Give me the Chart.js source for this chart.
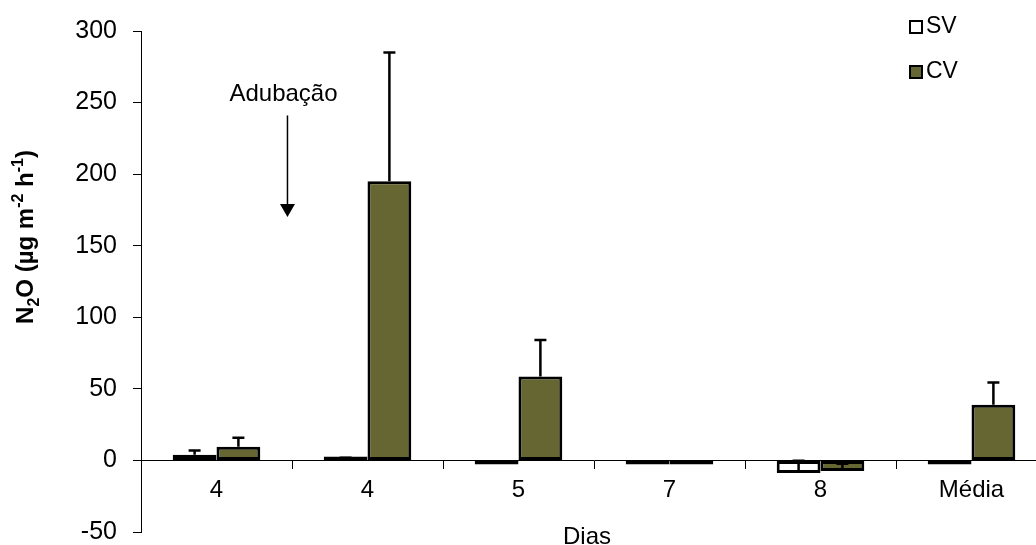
<!DOCTYPE html>
<html>
<head>
<meta charset="utf-8">
<script src="https://cdn.jsdelivr.net/npm/chart.js@4/dist/chart.umd.min.js"></script>
<style>
  html, body { margin: 0; padding: 0; background: #fff; overflow: hidden; }
  #wrap { width: 1036px; height: 545px; overflow: hidden; position: relative; }
  canvas { display: block; }
</style>
</head>
<body>
<div id="wrap"><canvas id="c" width="1050" height="563"></canvas></div>
<script>
// Sampling days and overall mean
const categories = ['4', '4', '5', '7', '8', 'Média'];
// N2O flux (µg m-2 h-1), without (SV) and with (CV) fertiliser
const seriesSV = [3.9, 0.6, -2.3, -1.5, -8.8, -2.4];
const seriesCV = [9.6, 195, 58.6, -1.2, -7.4, 38.9];
// Upper error bars
const errorSV = [3.1, 1.3, 0, 0, 8.5, 0];
const errorCV = [6.2, 90, 25.6, 0, 5.1, 15.5];
// Y axis ticks
const yTicks = [-50, 0, 50, 100, 150, 200, 250, 300];
const seriesLabels = ['SV', 'CV'];

const FONT = '"Liberation Sans", Arial, sans-serif';
const OLIVE = '#666633';

// Upper error bars drawn over each bar
const errorBars = {
  id: 'errorBars',
  afterDatasetsDraw(chart) {
    const ctx = chart.ctx;
    const y = chart.scales.y;
    const errs = [errorSV, errorCV];
    ctx.save();
    ctx.strokeStyle = '#000';
    ctx.lineWidth = 2.5;
    chart.data.datasets.forEach((ds, i) => {
      const meta = chart.getDatasetMeta(i);
      meta.data.forEach((bar, j) => {
        const e = errs[i][j];
        if (!e) return;
        const v = ds.data[j];
        const y0 = y.getPixelForValue(v);
        const y1 = y.getPixelForValue(v + e);
        ctx.beginPath();
        ctx.moveTo(bar.x, y0);
        ctx.lineTo(bar.x, y1);
        ctx.moveTo(bar.x - 6, y1);
        ctx.lineTo(bar.x + 6, y1);
        ctx.stroke();
      });
    });
    ctx.restore();
  }
};

// Axis titles, legend and fertilisation marker
const decorations = {
  id: 'decorations',
  afterDraw(chart) {
    const ctx = chart.ctx;
    const xs = chart.scales.x, ys = chart.scales.y;
    ctx.save();
    ctx.fillStyle = '#000';
    ctx.strokeStyle = '#000';

    // Y title with sub/superscripts
    const parts = [
      ['N', 24, 0], ['2', 16, 6], ['O (µg m', 24, 0], ['-2', 16, -10],
      [' h', 24, 0], ['-1', 16, -10], [')', 24, 0]
    ];
    let total = 0;
    parts.forEach(p => { ctx.font = 'bold ' + p[1] + 'px ' + FONT; total += ctx.measureText(p[0]).width; });
    ctx.translate(33, 237);
    ctx.rotate(-Math.PI / 2);
    ctx.textBaseline = 'alphabetic';
    ctx.textAlign = 'left';
    let px = -total / 2;
    parts.forEach(p => {
      ctx.font = 'bold ' + p[1] + 'px ' + FONT;
      ctx.fillText(p[0], px, p[2]);
      px += ctx.measureText(p[0]).width;
    });
    ctx.setTransform(1, 0, 0, 1, 0, 0);

    // X title
    ctx.font = '24px ' + FONT;
    ctx.textAlign = 'center';
    ctx.textBaseline = 'alphabetic';
    ctx.fillText('Dias', 587, 544);

    // Legend
    const lg = [[seriesLabels[0], '#fff', 27], [seriesLabels[1], OLIVE, 72]];
    ctx.font = '23px ' + FONT;
    ctx.textAlign = 'left';
    ctx.textBaseline = 'middle';
    ctx.lineWidth = 2;
    lg.forEach(([t, col, cy]) => {
      ctx.fillStyle = col;
      ctx.fillRect(910, cy - 6, 12, 12);
      ctx.strokeRect(910, cy - 6, 12, 12);
      ctx.fillStyle = '#000';
      ctx.fillText(t, 926, cy);
    });

    // Fertilisation arrow
    const ax = xs.getPixelForValue(0) + 0.47 * (xs.getPixelForValue(1) - xs.getPixelForValue(0));
    const yTop = ys.getPixelForValue(241);
    const yTip = ys.getPixelForValue(170);
    ctx.lineWidth = 1.5;
    ctx.beginPath();
    ctx.moveTo(ax, yTop);
    ctx.lineTo(ax, yTip - 12);
    ctx.stroke();
    ctx.beginPath();
    ctx.moveTo(ax - 7.5, yTip - 13);
    ctx.lineTo(ax + 7.5, yTip - 13);
    ctx.lineTo(ax, yTip);
    ctx.closePath();
    ctx.fill();
    ctx.font = '24px ' + FONT;
    ctx.textAlign = 'center';
    ctx.textBaseline = 'middle';
    ctx.fillText('Adubação', ax - 4, ys.getPixelForValue(256));
    ctx.restore();
  }
};

new Chart(document.getElementById('c'), {
  type: 'bar',
  data: {
    labels: categories,
    datasets: [
      { label: seriesLabels[0], data: seriesSV, backgroundColor: '#fff' },
      { label: seriesLabels[1], data: seriesCV, backgroundColor: OLIVE }
    ]
  },
  options: {
    responsive: false,
    animation: false,
    devicePixelRatio: 1,
    layout: { padding: { left: 0, right: 3, top: 31, bottom: 13 } },
    datasets: {
      bar: {
        borderColor: '#000',
        borderWidth: 3,
        borderSkipped: false,
        categoryPercentage: 0.58,
        barPercentage: 1,
        minBarLength: 4,
        inflateAmount: 0
      }
    },
    plugins: { legend: { display: false }, tooltip: { enabled: false } },
    scales: {
      x: {
        position: { y: 0 },
        grid: { drawOnChartArea: false, color: '#000', tickLength: 8, offset: true },
        border: { display: true, color: '#000', width: 1 },
        ticks: { color: '#000', font: { family: FONT, size: 24 }, padding: 8, maxRotation: 0 }
      },
      y: {
        min: -50,
        max: 300,
        afterFit(scale) { scale.width = 141; },
        afterBuildTicks(scale) { scale.ticks = yTicks.map(v => ({ value: v })); },
        grid: { drawOnChartArea: false, color: '#000', tickLength: 8 },
        border: { display: true, color: '#000', width: 1 },
        ticks: { color: '#000', font: { family: FONT, size: 25 }, padding: 16 }
      }
    }
  },
  plugins: [errorBars, decorations]
});
</script>
</body>
</html>
